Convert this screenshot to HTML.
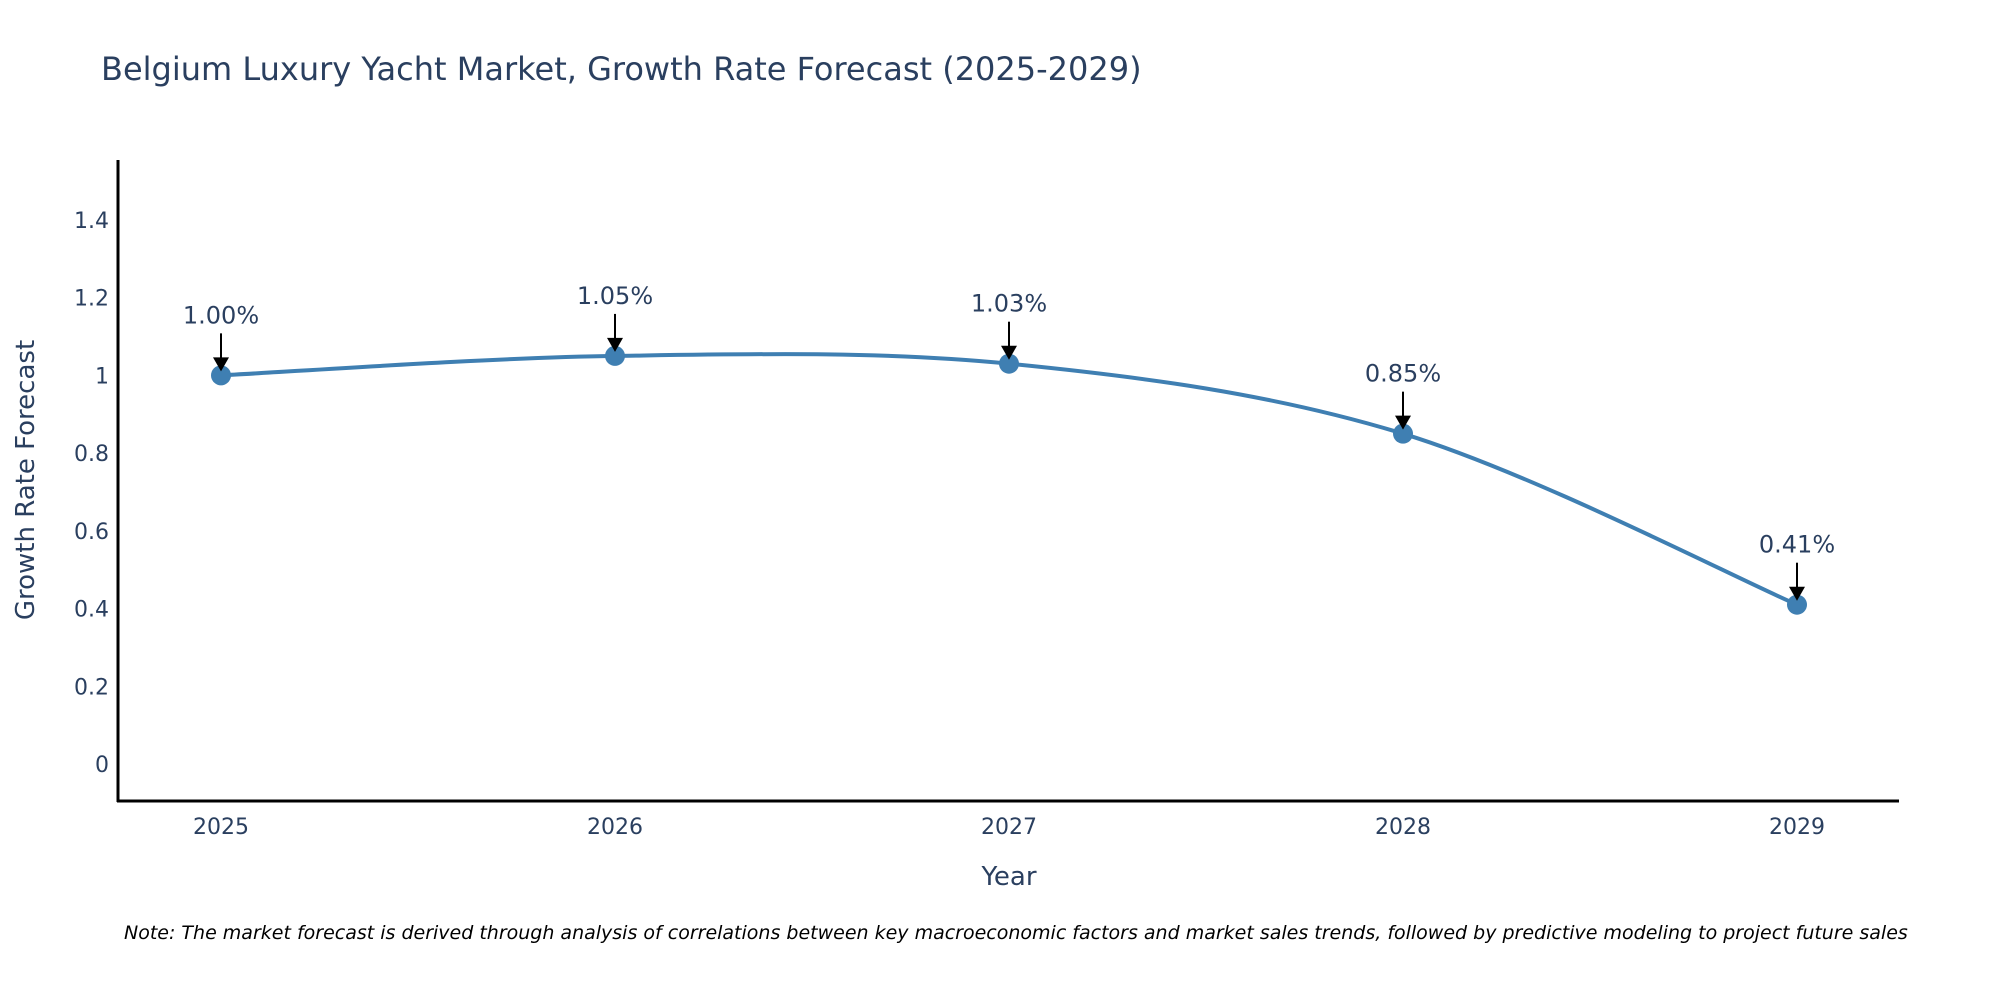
<!DOCTYPE html>
<html><head><meta charset="utf-8"><style>
body{margin:0;background:#fff;}
svg{display:block;font-family:"DejaVu Sans","Liberation Sans",sans-serif;}
</style></head><body>
<svg id="chart" width="2000" height="1000">
<text x="101" y="80" font-size="32" fill="#2a3f5f">Belgium Luxury Yacht Market, Growth Rate Forecast (2025-2029)</text>
<g id="yticks"></g><g id="xticks"></g>
<path id="line" fill="none" stroke="#3f7fb2" stroke-width="4"></path>
<g id="points"></g><g id="annos"></g>
<line x1="118" y1="160" x2="118" y2="802" stroke="#000" stroke-width="3"/>
<line x1="117" y1="801" x2="1899" y2="801" stroke="#000" stroke-width="3"/>
<text transform="translate(34,480) rotate(-90)" text-anchor="middle" font-size="26" fill="#2a3f5f">Growth Rate Forecast</text>
<text x="1009" y="885" text-anchor="middle" font-size="26" fill="#2a3f5f">Year</text>
<text x="124" y="939" font-size="19" font-style="italic" fill="#000">Note: The market forecast is derived through analysis of correlations between key macroeconomic factors and market sales trends, followed by predictive modeling to project future sales</text>
</svg>
<script>
const years = [2025, 2026, 2027, 2028, 2029];
const values = [1.00, 1.05, 1.03, 0.85, 0.41];
const labels = ["1.00%", "1.05%", "1.03%", "0.85%", "0.41%"];
const yTicks = [0, 0.2, 0.4, 0.6, 0.8, 1, 1.2, 1.4];
const yTickLabels = ["0", "0.2", "0.4", "0.6", "0.8", "1", "1.2", "1.4"];

const NS = "http://www.w3.org/2000/svg";
const yMin = -0.095, yMax = 1.554, pyBot = 801, pyTop = 160;
const xMin = 2025, xMax = 2029, pxL = 221, pxR = 1797;
function sx(v){return pxL + (v - xMin) / (xMax - xMin) * (pxR - pxL);}
function sy(v){return pyBot - (v - yMin) / (yMax - yMin) * (pyBot - pyTop);}
function mk(tag, attrs, parent){const e=document.createElementNS(NS,tag);for(const k in attrs)e.setAttribute(k,attrs[k]);parent.appendChild(e);return e;}

const yg = document.getElementById('yticks');
yTicks.forEach((t,i)=>{
  const e = mk('text',{x:109,y:sy(t)+8,'text-anchor':'end','font-size':22,fill:'#2a3f5f'},yg);
  
  
  e.textContent = yTickLabels[i];
});
const xg = document.getElementById('xticks');
years.forEach(y=>{
  const e = mk('text',{x:sx(y),y:834,'text-anchor':'middle','font-size':22,fill:'#2a3f5f'},xg);
  
  
  e.textContent = y;
});

const P = years.map((y,i)=>[sx(y), sy(values[i])]);
let d = `M${P[0][0]},${P[0][1]}`;
const s = 0.5/3*2;
for(let i=0;i<P.length-1;i++){
  const p0=P[Math.max(i-1,0)], p1=P[i], p2=P[i+1], p3=P[Math.min(i+2,P.length-1)];
  const c1=[p1[0]+(p2[0]-p0[0])*s/2, p1[1]+(p2[1]-p0[1])*s/2];
  const c2=[p2[0]-(p3[0]-p1[0])*s/2, p2[1]-(p3[1]-p1[1])*s/2];
  d += ` C${c1[0]},${c1[1]} ${c2[0]},${c2[1]} ${p2[0]},${p2[1]}`;
}
document.getElementById('line').setAttribute('d', d);

const pg = document.getElementById('points'), ag = document.getElementById('annos');
P.forEach((p,i)=>{
  const c = mk('circle',{cx:p[0],cy:p[1],r:10,fill:'#3f7fb2'},pg);
  
  
  const ln = mk('line',{x1:p[0],y1:p[1]-42,x2:p[0],y2:p[1]-14,stroke:'#000','stroke-width':2},ag);
  
  
  const hd = mk('path',{d:`M${p[0]-8},${p[1]-18} L${p[0]+8},${p[1]-18} L${p[0]},${p[1]-4} Z`,fill:'#000'},ag);
  
  
  const t = mk('text',{x:p[0],y:p[1]-52,'text-anchor':'middle','font-size':24,fill:'#2a3f5f'},ag);
  
  
  t.textContent = labels[i];
});
</script>
</body></html>
